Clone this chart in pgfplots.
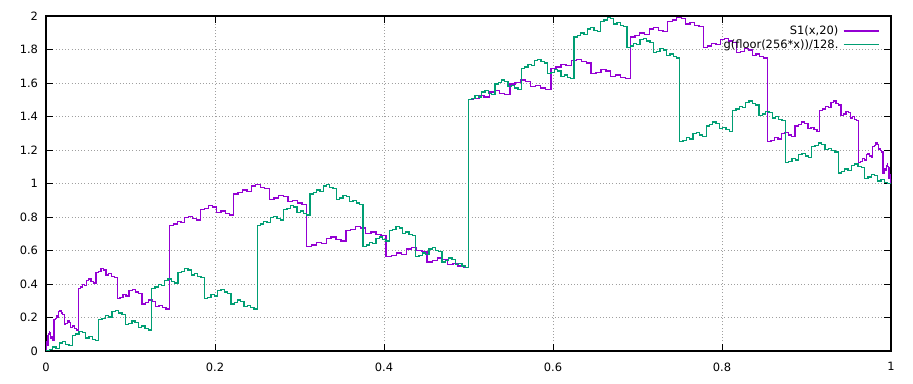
\documentclass[border=0pt]{standalone}
\usepackage{fontspec}
\setmainfont{DejaVu Sans}
\usepackage{pgfplots}
\usepackage{pgfplotstable}
\pgfplotsset{compat=1.18}
\definecolor{gpurple}{HTML}{9400D3}
\definecolor{ggreen}{HTML}{009E73}
\pgfplotstableread{
j xg xs y
0 0 0 0
1 0.0039 0.00004 0.0078
2 0.0078 0.00015 0.0234
3 0.0117 0.00034 0.0156
4 0.0156 0.00060 0.0469
5 0.0195 0.00094 0.0547
6 0.0234 0.00136 0.0391
7 0.0273 0.00184 0.0313
8 0.0313 0.00241 0.0938
9 0.0352 0.00305 0.1016
10 0.0391 0.00376 0.1172
11 0.0430 0.00455 0.1094
12 0.0469 0.00541 0.0781
13 0.0508 0.00635 0.0859
14 0.0547 0.00736 0.0703
15 0.0586 0.00845 0.0625
16 0.0625 0.00961 0.1875
17 0.0664 0.01084 0.1953
18 0.0703 0.01215 0.2109
19 0.0742 0.01353 0.2031
20 0.0781 0.01498 0.2344
21 0.0820 0.01651 0.2422
22 0.0859 0.01811 0.2266
23 0.0898 0.01978 0.2188
24 0.0938 0.02153 0.1563
25 0.0977 0.02335 0.1641
26 0.1016 0.02524 0.1797
27 0.1055 0.02720 0.1719
28 0.1094 0.02923 0.1406
29 0.1133 0.03133 0.1484
30 0.1172 0.03350 0.1328
31 0.1211 0.03575 0.125
32 0.125 0.03806 0.375
33 0.1289 0.04044 0.3828
34 0.1328 0.04290 0.3984
35 0.1367 0.04542 0.3906
36 0.1406 0.04801 0.4219
37 0.1445 0.05066 0.4297
38 0.1484 0.05339 0.4141
39 0.1523 0.05618 0.4063
40 0.1563 0.05904 0.4688
41 0.1602 0.06197 0.4766
42 0.1641 0.06496 0.4922
43 0.1680 0.06802 0.4844
44 0.1719 0.07114 0.4531
45 0.1758 0.07432 0.4609
46 0.1797 0.07757 0.4453
47 0.1836 0.08089 0.4375
48 0.1875 0.08427 0.3125
49 0.1914 0.08771 0.3203
50 0.1953 0.09121 0.3359
51 0.1992 0.09477 0.3281
52 0.2031 0.09840 0.3594
53 0.2070 0.10208 0.3672
54 0.2109 0.10582 0.3516
55 0.2148 0.10963 0.3438
56 0.2188 0.11349 0.2813
57 0.2227 0.11742 0.2891
58 0.2266 0.12140 0.3047
59 0.2305 0.12543 0.2969
60 0.2344 0.12952 0.2656
61 0.2383 0.13367 0.2734
62 0.2422 0.13787 0.2578
63 0.2461 0.14213 0.25
64 0.25 0.14645 0.75
65 0.2539 0.15081 0.7578
66 0.2578 0.15523 0.7734
67 0.2617 0.15970 0.7656
68 0.2656 0.16422 0.7969
69 0.2695 0.16879 0.8047
70 0.2734 0.17341 0.7891
71 0.2773 0.17808 0.7813
72 0.2813 0.18280 0.8438
73 0.2852 0.18757 0.8516
74 0.2891 0.19239 0.8672
75 0.2930 0.19725 0.8594
76 0.2969 0.20215 0.8281
77 0.3008 0.20710 0.8359
78 0.3047 0.21209 0.8203
79 0.3086 0.21713 0.8125
80 0.3125 0.22221 0.9375
81 0.3164 0.22734 0.9453
82 0.3203 0.23250 0.9609
83 0.3242 0.23771 0.9531
84 0.3281 0.24295 0.9844
85 0.3320 0.24823 0.9922
86 0.3359 0.25355 0.9766
87 0.3398 0.25891 0.9688
88 0.3438 0.26430 0.9063
89 0.3477 0.26973 0.9141
90 0.3516 0.27520 0.9297
91 0.3555 0.28069 0.9219
92 0.3594 0.28622 0.8906
93 0.3633 0.29178 0.8984
94 0.3672 0.29738 0.8828
95 0.3711 0.30300 0.875
96 0.375 0.30866 0.625
97 0.3789 0.31434 0.6328
98 0.3828 0.32006 0.6484
99 0.3867 0.32579 0.6406
100 0.3906 0.33156 0.6719
101 0.3945 0.33734 0.6797
102 0.3984 0.34316 0.6641
103 0.4023 0.34899 0.6563
104 0.4063 0.35486 0.7188
105 0.4102 0.36074 0.7266
106 0.4141 0.36665 0.7422
107 0.4180 0.37257 0.7344
108 0.4219 0.37851 0.7031
109 0.4258 0.38447 0.7109
110 0.4297 0.39045 0.6953
111 0.4336 0.39644 0.6875
112 0.4375 0.40245 0.5625
113 0.4414 0.40848 0.5703
114 0.4453 0.41452 0.5859
115 0.4492 0.42057 0.5781
116 0.4531 0.42663 0.6094
117 0.4570 0.43271 0.6172
118 0.4609 0.43879 0.6016
119 0.4648 0.44489 0.5938
120 0.4688 0.45099 0.5313
121 0.4727 0.45710 0.5391
122 0.4766 0.46322 0.5547
123 0.4805 0.46934 0.5469
124 0.4844 0.47547 0.5156
125 0.4883 0.48159 0.5234
126 0.4922 0.48773 0.5078
127 0.4961 0.49386 0.5
128 0.5 0.5 1.5
129 0.5039 0.50614 1.5078
130 0.5078 0.51227 1.5234
131 0.5117 0.51841 1.5156
132 0.5156 0.52453 1.5469
133 0.5195 0.53066 1.5547
134 0.5234 0.53678 1.5391
135 0.5273 0.54290 1.5313
136 0.5313 0.54901 1.5938
137 0.5352 0.55511 1.6016
138 0.5391 0.56121 1.6172
139 0.5430 0.56729 1.6094
140 0.5469 0.57337 1.5781
141 0.5508 0.57943 1.5859
142 0.5547 0.58548 1.5703
143 0.5586 0.59152 1.5625
144 0.5625 0.59755 1.6875
145 0.5664 0.60356 1.6953
146 0.5703 0.60955 1.7109
147 0.5742 0.61553 1.7031
148 0.5781 0.62149 1.7344
149 0.5820 0.62743 1.7422
150 0.5859 0.63335 1.7266
151 0.5898 0.63926 1.7188
152 0.5938 0.64514 1.6563
153 0.5977 0.65101 1.6641
154 0.6016 0.65684 1.6797
155 0.6055 0.66266 1.6719
156 0.6094 0.66844 1.6406
157 0.6133 0.67421 1.6484
158 0.6172 0.67994 1.6328
159 0.6211 0.68566 1.625
160 0.625 0.69134 1.875
161 0.6289 0.69700 1.8828
162 0.6328 0.70262 1.8984
163 0.6367 0.70822 1.8906
164 0.6406 0.71378 1.9219
165 0.6445 0.71931 1.9297
166 0.6484 0.72480 1.9141
167 0.6523 0.73027 1.9063
168 0.6563 0.73570 1.9688
169 0.6602 0.74109 1.9766
170 0.6641 0.74645 1.9922
171 0.6680 0.75177 1.9844
172 0.6719 0.75705 1.9531
173 0.6758 0.76229 1.9609
174 0.6797 0.76750 1.9453
175 0.6836 0.77266 1.9375
176 0.6875 0.77779 1.8125
177 0.6914 0.78287 1.8203
178 0.6953 0.78791 1.8359
179 0.6992 0.79290 1.8281
180 0.7031 0.79785 1.8594
181 0.7070 0.80275 1.8672
182 0.7109 0.80761 1.8516
183 0.7148 0.81243 1.8438
184 0.7188 0.81720 1.7813
185 0.7227 0.82192 1.7891
186 0.7266 0.82659 1.8047
187 0.7305 0.83121 1.7969
188 0.7344 0.83578 1.7656
189 0.7383 0.84030 1.7734
190 0.7422 0.84477 1.7578
191 0.7461 0.84919 1.75
192 0.75 0.85355 1.25
193 0.7539 0.85787 1.2578
194 0.7578 0.86213 1.2734
195 0.7617 0.86633 1.2656
196 0.7656 0.87048 1.2969
197 0.7695 0.87457 1.3047
198 0.7734 0.87860 1.2891
199 0.7773 0.88258 1.2813
200 0.7813 0.88651 1.3438
201 0.7852 0.89037 1.3516
202 0.7891 0.89418 1.3672
203 0.7930 0.89792 1.3594
204 0.7969 0.90160 1.3281
205 0.8008 0.90523 1.3359
206 0.8047 0.90879 1.3203
207 0.8086 0.91229 1.3125
208 0.8125 0.91573 1.4375
209 0.8164 0.91911 1.4453
210 0.8203 0.92243 1.4609
211 0.8242 0.92568 1.4531
212 0.8281 0.92886 1.4844
213 0.8320 0.93198 1.4922
214 0.8359 0.93504 1.4766
215 0.8398 0.93803 1.4688
216 0.8438 0.94096 1.4063
217 0.8477 0.94382 1.4141
218 0.8516 0.94661 1.4297
219 0.8555 0.94934 1.4219
220 0.8594 0.95199 1.3906
221 0.8633 0.95458 1.3984
222 0.8672 0.95710 1.3828
223 0.8711 0.95956 1.375
224 0.875 0.96194 1.125
225 0.8789 0.96425 1.1328
226 0.8828 0.96650 1.1484
227 0.8867 0.96867 1.1406
228 0.8906 0.97077 1.1719
229 0.8945 0.97280 1.1797
230 0.8984 0.97476 1.1641
231 0.9023 0.97665 1.1563
232 0.9063 0.97847 1.2188
233 0.9102 0.98022 1.2266
234 0.9141 0.98189 1.2422
235 0.9180 0.98349 1.2344
236 0.9219 0.98502 1.2031
237 0.9258 0.98647 1.2109
238 0.9297 0.98785 1.1953
239 0.9336 0.98916 1.1875
240 0.9375 0.99039 1.0625
241 0.9414 0.99155 1.0703
242 0.9453 0.99264 1.0859
243 0.9492 0.99365 1.0781
244 0.9531 0.99459 1.1094
245 0.9570 0.99545 1.1172
246 0.9609 0.99624 1.1016
247 0.9648 0.99695 1.0938
248 0.9688 0.99759 1.0313
249 0.9727 0.99816 1.0391
250 0.9766 0.99864 1.0547
251 0.9805 0.99906 1.0469
252 0.9844 0.99940 1.0156
253 0.9883 0.99966 1.0234
254 0.9922 0.99985 1.0078
255 0.9961 0.99996 1.0
256 1 1 1.0
}\data
\begin{document}
\fontsize{11.5}{14}\selectfont
\begin{tikzpicture}
\useasboundingbox (-46bp,-33bp) rectangle (867bp,351bp);
\begin{axis}[
  at={(0,0)}, anchor=south west,
  scale only axis, width=845bp, height=335bp,
  xmin=0, xmax=1, ymin=0, ymax=2,
  xtick={0,0.2,0.4,0.6,0.8,1},
  ytick={0,0.2,0.4,0.6,0.8,1,1.2,1.4,1.6,1.8,2},
  tick align=inside, major tick length=7bp,
  grid=major,
  major grid style={gray!75, dash pattern=on 1bp off 2.2bp, line width=0.9bp},
  axis line style={black, line width=1.1bp},
  every tick/.style={black, line width=0.9bp},
  /pgf/number format/assume math mode=true,
  tick label style={font=\fontsize{11.5}{14}\selectfont},
  xticklabel style={yshift=-7.5bp},
  yticklabel style={xshift=-4bp},
  legend style={at={(rel axis cs:1,1)}, anchor=north east, xshift=-11.5bp, yshift=-8bp,
    draw=none, fill=none, inner sep=0pt, column sep=3bp, row sep=0pt,
    nodes={inner sep=1.6bp}, font=\fontsize{11.5}{14}\selectfont},
  legend cell align=right,
  legend plot pos=right,
  legend image code/.code={\draw[#1] (0bp,0bp) -- (35bp,0bp);},
]
\addplot[const plot, gpurple, line width=1.3bp] table[x=xs, y=y] {\data};
\addlegendentry{S1(x,20)}
\addplot[const plot, ggreen, line width=1.3bp] table[x=xg, y=y] {\data};
\addlegendentry{g(floor(256*x))/128.}
\end{axis}
\end{tikzpicture}
\end{document}
